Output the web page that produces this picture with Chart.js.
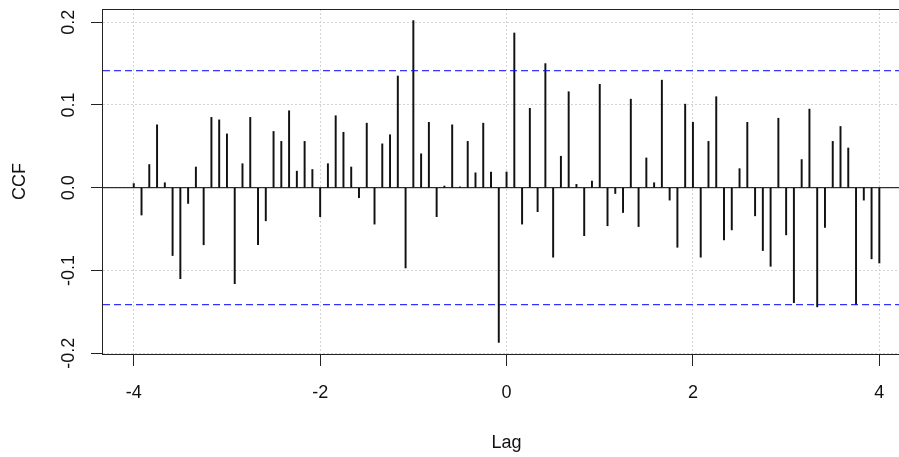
<!DOCTYPE html>
<html>
<head>
<meta charset="utf-8">
<script src="https://cdn.jsdelivr.net/npm/chart.js@4/dist/chart.umd.min.js"></script>
<style>
  html, body { margin: 0; padding: 0; background: #fff; overflow: hidden; }
  canvas { display: block; }
</style>
</head>
<body>
<canvas id="ccfChart" width="899" height="457"></canvas>
<script>
// Lags -4 .. 4 in steps of 1/12 (monthly series)
const lags = Array.from({ length: 97 }, (_, i) => (i - 48) / 12);

// CCF values, lag -4 first
const ccfValues = [
    0.005, -0.033, 0.028, 0.076, 0.006, -0.082, -0.110, -0.019, 0.025, -0.069,
    0.085, 0.082, 0.065, -0.116, 0.029, 0.085, -0.069, -0.040, 0.068, 0.056,
    0.093, 0.020, 0.056, 0.022, -0.035, 0.029, 0.087, 0.067, 0.025, -0.012,
    0.078, -0.044, 0.053, 0.064, 0.135, -0.097, 0.202, 0.041, 0.079, -0.035,
    0.002, 0.076, 0.001, 0.056, 0.018, 0.078, 0.019, -0.187, 0.019, 0.187,
    -0.044, 0.096, -0.029, 0.150, -0.084, 0.038, 0.116, 0.004, -0.058, 0.008,
    0.125, -0.046, -0.007, -0.030, 0.107, -0.047, 0.036, 0.006, 0.130, -0.015,
    -0.072, 0.101, 0.079, -0.084, 0.056, 0.110, -0.063, -0.051, 0.023, 0.079,
    -0.034, -0.076, -0.095, 0.084, -0.057, -0.139, 0.034, 0.095, -0.144, -0.048,
    0.056, 0.074, 0.048, -0.141, -0.015, -0.086, -0.091
];

// significance bound (blue dashed lines)
const confLimit = 0.1414;

const xTicks = [-4, -2, 0, 2, 4];
const xTickLabels = ["-4", "-2", "0", "2", "4"];
const yTicks = [-0.2, -0.1, 0, 0.1, 0.2];
const yTickLabels = ["-0.2", "-0.1", "0.0", "0.1", "0.2"];

const X_MIN = -4.33, X_MAX = 4.211;
const Y_MIN = -0.201, Y_MAX = 0.216;
const FONT = '18px "Liberation Sans", Arial, sans-serif';

// etiquetas, titulos y marco al estilo de R
const rStylePlugin = {
    id: 'rStyle',
    afterDraw(chart) {
        const { ctx, chartArea, scales } = chart;
        const xs = scales.x, ys = scales.y;
        ctx.save();

        // marco del grafico
        ctx.strokeStyle = '#222';
        ctx.lineWidth = 1;
        ctx.strokeRect(chartArea.left - 0.5, chartArea.top + 0.5, chartArea.right - chartArea.left + 20, chartArea.bottom - chartArea.top);

        ctx.fillStyle = '#111';
        ctx.font = FONT;
        ctx.textAlign = 'center';
        ctx.textBaseline = 'alphabetic';

        xTicks.forEach((v, i) => {
            ctx.fillText(xTickLabels[i], xs.getPixelForValue(v), 398);
        });
        ctx.fillText('Lag', xs.getPixelForValue(0), 448);

        yTicks.forEach((v, i) => {
            ctx.save();
            ctx.translate(74, ys.getPixelForValue(v));
            ctx.rotate(-Math.PI / 2);
            ctx.fillText(yTickLabels[i], 0, 0);
            ctx.restore();
        });

        ctx.save();
        ctx.translate(25, (chartArea.top + chartArea.bottom) / 2);
        ctx.rotate(-Math.PI / 2);
        ctx.fillText('CCF', 0, 0);
        ctx.restore();

        ctx.restore();
    }
};

const ctx = document.getElementById('ccfChart').getContext('2d');
new Chart(ctx, {
    type: 'bar',
    data: {
        datasets: [
            {
                type: 'line',
                data: [{ x: X_MIN, y: confLimit }, { x: X_MAX, y: confLimit }],
                borderColor: '#0000ff',
                borderWidth: 1,
                borderDash: [7, 4],
                pointRadius: 0
            },
            {
                type: 'line',
                data: [{ x: X_MIN, y: -confLimit }, { x: X_MAX, y: -confLimit }],
                borderColor: '#0000ff',
                borderWidth: 1,
                borderDash: [7, 4],
                pointRadius: 0
            },
            {
                type: 'line',
                data: [{ x: X_MIN, y: 0 }, { x: X_MAX, y: 0 }],
                borderColor: '#000',
                borderWidth: 1,
                pointRadius: 0
            },
            {
                type: 'bar',
                data: lags.map((l, i) => ({ x: l, y: ccfValues[i] })),
                backgroundColor: '#111',
                barThickness: 1.3
            }
        ]
    },
    options: {
        responsive: false,
        animation: false,
        devicePixelRatio: 1,
        layout: { padding: { top: 9, left: 0, right: 0, bottom: 0 } },
        plugins: { legend: { display: false }, tooltip: { enabled: false } },
        scales: {
            x: {
                type: 'linear',
                offset: false,
                min: X_MIN,
                max: X_MAX,
                afterBuildTicks: s => { s.ticks = xTicks.map(v => ({ value: v })); },
                afterFit: s => { s.height = 103; },
                ticks: { display: false },
                border: { display: false, dash: [2, 2] },
                grid: { offset: false, color: '#d3d3d3', lineWidth: 1, drawTicks: true, tickLength: 12, tickColor: '#222', tickWidth: 1 }
            },
            y: {
                type: 'linear',
                min: Y_MIN,
                max: Y_MAX,
                afterBuildTicks: s => { s.ticks = yTicks.map(v => ({ value: v })); },
                afterFit: s => { s.width = 103; },
                ticks: { display: false },
                border: { display: false, dash: [2, 2] },
                grid: { color: '#d3d3d3', lineWidth: 1, drawTicks: true, tickLength: 12, tickColor: '#222', tickWidth: 1 }
            }
        }
    },
    plugins: [rStylePlugin]
});
</script>
</body>
</html>
